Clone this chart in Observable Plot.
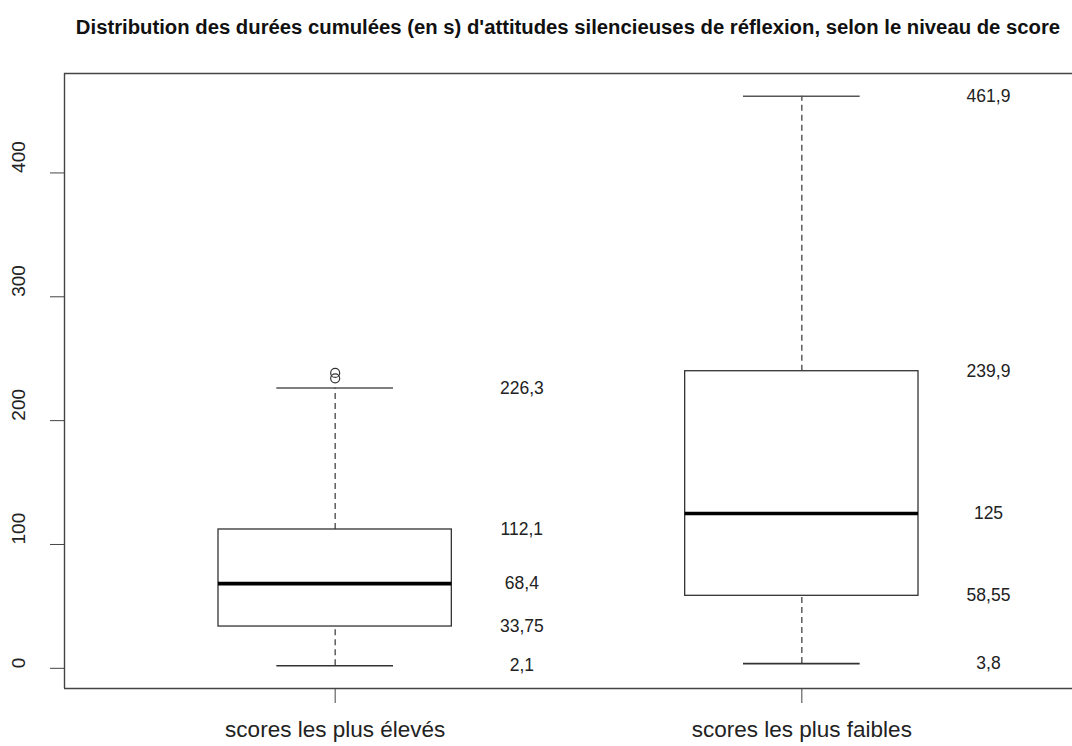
<!DOCTYPE html>
<html>
<head>
<meta charset="utf-8">
<script src="https://cdn.jsdelivr.net/npm/d3@7"></script>
<script src="https://cdn.jsdelivr.net/npm/@observablehq/plot@0.6"></script>
<style>
  html, body { margin: 0; padding: 0; background: #fff; }
  body { width: 1072px; height: 746px; overflow: hidden; font-family: "Liberation Sans", Arial, sans-serif; }
  #title { height: 50px; box-sizing: border-box; padding-top: 17px; padding-left: 64px; width: 1072px;
    text-align: center; font-weight: bold; font-size: 20.3px; line-height: 20px; color: #111; white-space: nowrap; }
</style>
</head>
<body>
<div id="title">Distribution des durées cumulées (en s) d'attitudes silencieuses de réflexion, selon le niveau de score</div>
<div id="chart"></div>
<script>
const categories = ["scores les plus élevés", "scores les plus faibles"];
const whiskerLow = [2.1, 3.8];
const q1 = [33.75, 58.55];
const median = [68.4, 125];
const q3 = [112.1, 239.9];
const whiskerHigh = [226.3, 461.9];
const outlierGroup = [1, 1];
const outlierValue = [238.5, 234.2];
const yTicks = [0, 100, 200, 300, 400];

const boxes = categories.map((c, i) => ({
  pos: i + 1, name: c, lo: whiskerLow[i], q1: q1[i], med: median[i], q3: q3[i], hi: whiskerHigh[i]
}));
const outliers = outlierGroup.map((g, i) => ({pos: g, value: outlierValue[i]}));
const labels = boxes.flatMap(b => [b.lo, b.q1, b.med, b.q3, b.hi].map(v => ({pos: b.pos, value: v})));
const fmt = v => String(v).replace(".", ",");

const allVals = [...whiskerLow, ...whiskerHigh, ...outlierValue];
const yMin = d3.min(allVals), yMax = d3.max(allVals);
const yPad = 0.04 * (yMax - yMin);
const yDomain = [yMin - yPad, yMax + yPad];
const xDomain = [0.5 - 0.04 * categories.length, categories.length + 0.5 + 0.04 * categories.length];

const boxHalf = 0.25, capHalf = 0.125;
const dash = "6,4";

const chart = Plot.plot({
  width: 1072,
  height: 696,
  marginTop: 23,
  marginBottom: 58,
  marginLeft: 64,
  marginRight: 0,
  style: {fontFamily: "'Liberation Sans', Arial, sans-serif", color: "#222", background: "white"},
  x: {domain: xDomain, label: null},
  y: {domain: yDomain, label: null},
  marks: [
    Plot.ruleX(boxes, {x: "pos", y1: "q3", y2: "hi", stroke: "#444", strokeWidth: 1.3, strokeDasharray: dash}),
    Plot.ruleX(boxes, {x: "pos", y1: "lo", y2: "q1", stroke: "#444", strokeWidth: 1.3, strokeDasharray: dash}),
    Plot.ruleY(boxes, {y: "hi", x1: d => d.pos - capHalf, x2: d => d.pos + capHalf, stroke: "#555", strokeWidth: 1.6}),
    Plot.ruleY(boxes, {y: "lo", x1: d => d.pos - capHalf, x2: d => d.pos + capHalf, stroke: "#333", strokeWidth: 1.6}),
    Plot.rect(boxes, {x1: d => d.pos - boxHalf, x2: d => d.pos + boxHalf, y1: "q1", y2: "q3", fill: "white", stroke: "#333", strokeWidth: 1.3}),
    Plot.ruleY(boxes, {y: "med", x1: d => d.pos - boxHalf, x2: d => d.pos + boxHalf, stroke: "#000", strokeWidth: 3.6}),
    Plot.dot(outliers, {x: "pos", y: "value", r: 4.5, stroke: "#333", fill: "none", strokeWidth: 1.2}),
    Plot.text(labels, {x: d => d.pos + 0.4, y: "value", text: d => fmt(d.value), fontSize: 17.5, fill: "#222"}),
    Plot.ruleY([yDomain[1], yDomain[0]], {stroke: "#444", strokeWidth: 1.4}),
    Plot.ruleX([xDomain[0]], {stroke: "#444", strokeWidth: 1.4}),
    Plot.axisY({ticks: yTicks, tickSize: 14, tickFormat: () => "", stroke: "#444", label: null}),
    Plot.axisX({ticks: categories.map((c, i) => i + 1), tickSize: 15, tickFormat: () => "", stroke: "#444", label: null}),
    Plot.text(yTicks, {y: d => d, text: d => String(d), frameAnchor: "left", dx: -46, rotate: -90, fontSize: 19, fill: "#222"}),
    Plot.text(boxes, {x: "pos", text: "name", frameAnchor: "bottom", dy: 48, fontSize: 22.5, fill: "#222"})
  ]
});
document.getElementById("chart").appendChild(chart);
</script>
</body>
</html>
